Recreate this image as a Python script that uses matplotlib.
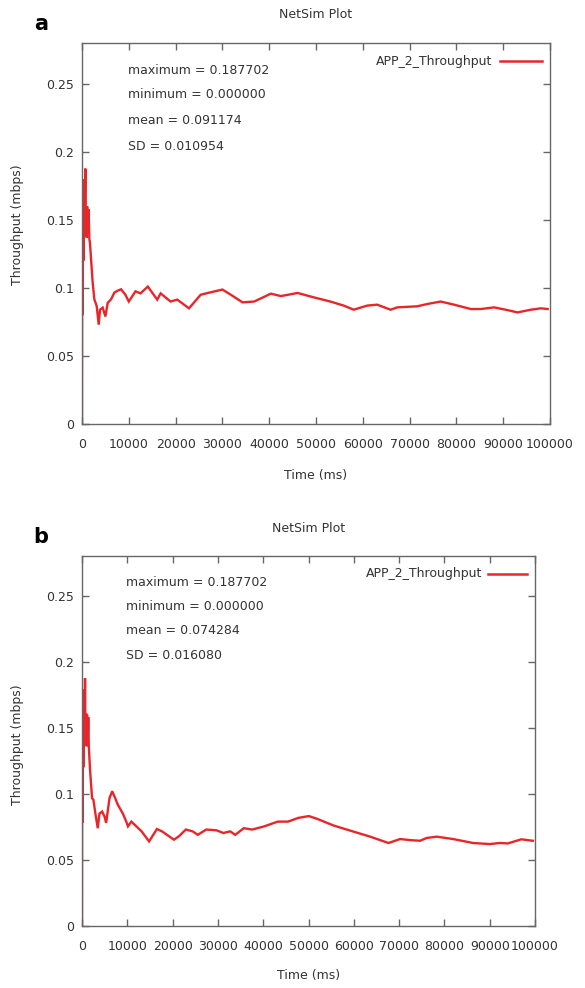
import matplotlib
matplotlib.use("Agg")
import matplotlib.pyplot as plt

# ---------------- data ----------------
time_a = [0, 20, 60, 100, 140, 180, 230, 280, 330, 400, 500, 600, 713, 800, 900, 1000,
          1100, 1250, 1400, 1570, 1700, 2280, 2640, 3140, 3570, 3850, 4420, 5000, 5490,
          6200, 6920, 7630, 8350, 9270, 10000, 11430, 12500, 14070,
          16070, 16800, 18930, 20360, 22860, 25360, 27500, 30000, 31800, 34290, 36790,
          40360, 42500, 46070, 49500, 53070, 55930, 58070, 60930, 63070, 65930, 67360,
          71640, 73790, 76640, 79500, 83070, 85210, 88070, 90930, 93070, 95930, 98070, 99500]
thr_a = [0.0, 0.077, 0.175, 0.08, 0.178, 0.10, 0.18, 0.12, 0.17, 0.14, 0.176, 0.15, 0.1877,
         0.14, 0.16, 0.137, 0.16, 0.14, 0.158, 0.136, 0.133, 0.104, 0.0916, 0.0867, 0.073,
         0.084, 0.0855, 0.079, 0.089, 0.0916, 0.0966, 0.098, 0.099, 0.095, 0.090, 0.0975,
         0.096, 0.101, 0.0914, 0.096, 0.090, 0.0914, 0.085, 0.095, 0.0968, 0.0988, 0.095,
         0.0894, 0.090, 0.0958, 0.094, 0.0963, 0.0931, 0.090, 0.087, 0.084, 0.087, 0.0877,
         0.084, 0.0857, 0.0865, 0.0882, 0.090, 0.0877, 0.0845, 0.0845, 0.0857, 0.0837,
         0.082, 0.084, 0.085, 0.0845]

time_b = [0, 20, 60, 100, 140, 180, 230, 280, 330, 400, 500, 580, 670, 760, 880, 1000,
          1120, 1250, 1380, 1500, 1780, 2220, 2520, 2960, 3480, 3850, 4440, 4960, 5330,
          6070, 6660, 7180, 7920, 9030, 9770, 10150, 10900, 13160, 14810,
          16540, 17670, 20300, 21430, 22930, 24440, 25560, 27440, 29700, 31200, 32710,
          33830, 35710, 37590, 40230, 43230, 45490, 47740, 50070, 51900, 55570, 59960,
          63630, 67660, 70220, 72420, 74620, 76080, 78280, 81940, 86340, 90000, 92200,
          94030, 96960, 99520]
thr_b = [0.0, 0.076, 0.177, 0.078, 0.179, 0.10, 0.178, 0.12, 0.17, 0.14, 0.175, 0.15,
         0.1876, 0.14, 0.161, 0.136, 0.16, 0.138, 0.158, 0.136, 0.118, 0.0967, 0.0955,
         0.085, 0.074, 0.085, 0.0866, 0.083, 0.078, 0.0967, 0.102, 0.098, 0.0917, 0.085,
         0.079, 0.0754, 0.079, 0.0716, 0.064, 0.0734, 0.0716, 0.0653, 0.068, 0.073, 0.0716,
         0.069, 0.073, 0.0724, 0.0704, 0.0716, 0.069, 0.074, 0.073, 0.0754, 0.079, 0.079,
         0.0818, 0.0832, 0.0811, 0.076, 0.0714, 0.0676, 0.0628, 0.0658, 0.065, 0.0645,
         0.0666, 0.0676, 0.0658, 0.0628, 0.062, 0.0628, 0.0625, 0.0656, 0.0645]

stats_a = ["maximum = 0.187702", "minimum = 0.000000", "mean = 0.091174", "SD = 0.010954"]
stats_b = ["maximum = 0.187702", "minimum = 0.000000", "mean = 0.074284", "SD = 0.016080"]

x_ticks = [0, 10000, 20000, 30000, 40000, 50000, 60000, 70000, 80000, 90000, 100000]
y_ticks = [0, 0.05, 0.1, 0.15, 0.2, 0.25]
y_ticklabels = ["0", "0.05", "0.1", "0.15", "0.2", "0.25"]
series_name = "APP_2_Throughput"
title = "NetSim Plot"

# ---------------- figure ----------------
W, H = 585, 988
fig = plt.figure(figsize=(W / 100, H / 100), dpi=100)
fig.patch.set_facecolor("white")
plt.rcParams["font.family"] = ["DejaVu Sans"]

RED = "#e8262a"
TXT = "#333333"
SPINE = "#666666"
FS = 9.0


def px(x, y):
    return x / W, 1 - y / H


def make_panel(rect_px, t, v, stats, letter, title_y, letter_xy, leg_px, stats_px,
               xlabel_y, ylabel_xy):
    l, tp, r, b = rect_px
    ax = fig.add_axes([l / W, 1 - b / H, (r - l) / W, (b - tp) / H])
    ax.plot(t, v, color=RED, lw=1.7, solid_joinstyle="miter")
    ax.set_xlim(0, 100000)
    ax.set_ylim(0, 0.28)
    ax.set_xticks(x_ticks)
    ax.set_xticklabels([str(x) for x in x_ticks])
    ax.set_yticks(y_ticks)
    ax.set_yticklabels(y_ticklabels)
    ax.tick_params(direction="in", length=5, width=1, colors=SPINE, labelcolor=TXT,
                   labelsize=FS, top=True, right=True)
    ax.tick_params(axis="x", pad=10)
    ax.tick_params(axis="y", pad=6)
    for s in ax.spines.values():
        s.set_color(SPINE)
        s.set_linewidth(1.0)
    # title & letter
    fig.text(*px((l + r) / 2, title_y), title, ha="center", va="center",
             fontsize=FS, color=TXT)
    fig.text(*px(*letter_xy), letter, ha="center", va="center", fontsize=15,
             fontweight="bold", color="black")
    fig.text(*px((l + r) / 2, xlabel_y), "Time (ms)", ha="center", va="center",
             fontsize=FS, color=TXT)
    fig.text(*px(*ylabel_xy), "Throughput (mbps)", ha="center", va="center",
             rotation=90, fontsize=FS, color=TXT)
    # legend
    tx_end, ly, lx0, lx1 = leg_px
    fig.text(*px(tx_end, ly), series_name, ha="right", va="center", fontsize=FS,
             color=TXT)
    fig.add_artist(plt.Line2D([lx0 / W, lx1 / W], [1 - ly / H, 1 - ly / H],
                              color=RED, lw=1.8))
    # stats
    sx, sys = stats_px
    for s, yy in zip(stats, sys):
        fig.text(*px(sx, yy), s, ha="left", va="center", fontsize=FS, color=TXT)
    return ax


make_panel((82, 43, 550, 424), time_a, thr_a, stats_a, "a", 15, (41, 24),
           (492, 61, 500, 542), (128, [71, 95, 120, 146]), 476, (18, 225))
make_panel((82, 556, 535, 926), time_b, thr_b, stats_b, "b", 528, (41, 537),
           (482, 574, 488, 527), (126, [582, 606, 630, 655]), 975, (18, 745))

fig.savefig("out.png", dpi=100, facecolor="white")
